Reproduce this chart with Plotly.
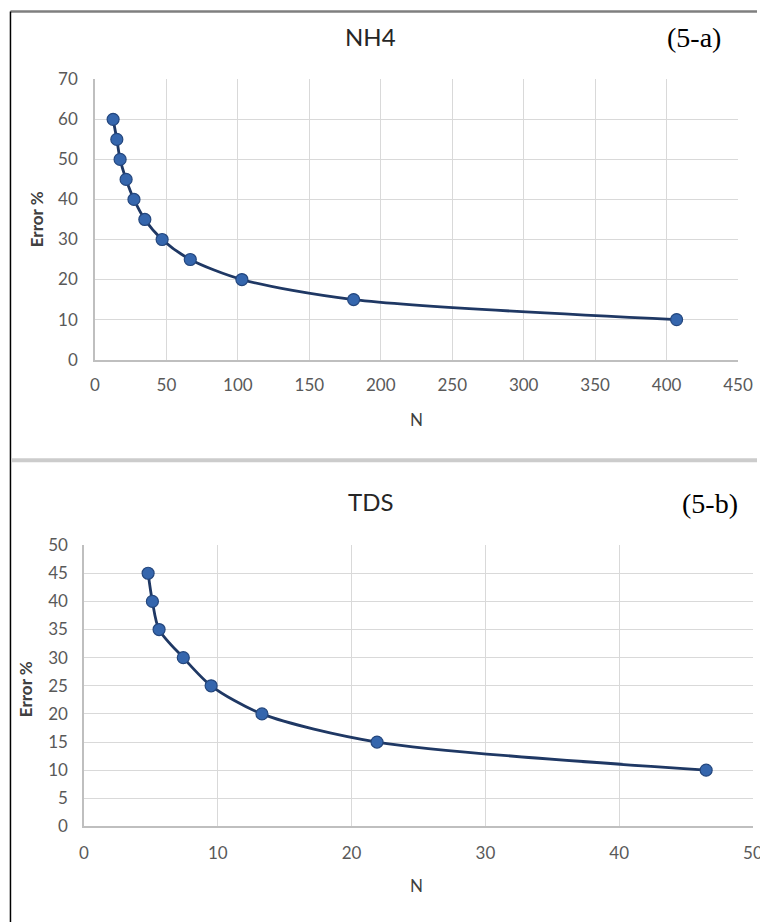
import plotly.graph_objects as go

# Data
nh4_N = [12.7, 15.3, 17.6, 21.8, 27.3, 34.9, 47.0, 66.7, 102.8, 181.0, 407.0]
nh4_err = [60, 55, 50, 45, 40, 35, 30, 25, 20, 15, 10]
tds_N = [4.79, 5.11, 5.61, 7.42, 9.5, 13.3, 21.9, 46.5]
tds_err = [45, 40, 35, 30, 25, 20, 15, 10]

# Page placement (body margin removed in post_script). Earlier renders showed
# picture = 0.98 * page + offset, so positions are given in picture pixels and converted.
S, OX, OY = 0.98, 4.5, 8.5
W, H = 772, 934
def fx(x):
    return (x - OX) / S / W
def fy(y):
    return 1 - (y - OY) / S / H
def cx(v):
    return min(1.0, max(0.0, v))

LINE = "#1f3864"
MARK = "#3566ad"
GRID = "#d9d9d9"
TICKC = "#595959"
FONT = "Lato"

fig = go.Figure()
for xs, ys, xa, ya in [(nh4_N, nh4_err, "x", "y"), (tds_N, tds_err, "x2", "y2")]:
    fig.add_trace(go.Scatter(
        x=xs, y=ys, xaxis=xa, yaxis=ya, mode="lines+markers",
        line=dict(color=LINE, width=2.8, shape="spline", smoothing=0.8),
        marker=dict(size=12, color=MARK, line=dict(color="#24477e", width=1.2)),
        showlegend=False, hoverinfo="x+y"))

axcommon = dict(showgrid=True, gridcolor=GRID, gridwidth=1, zeroline=False,
                showline=True, linecolor="#bfbfbf", linewidth=1.5,
                ticks="", ticklabeloverflow="allow",
                tickfont=dict(family=FONT, size=17, color=TICKC))

fig.update_layout(
    width=W, height=H, margin=dict(l=0, r=0, t=0, b=0),
    paper_bgcolor="white", plot_bgcolor="white",
    xaxis=dict(domain=[cx(fx(95)), cx(fx(742))], range=[0, 450], dtick=50, anchor="y",
               ticklabelstandoff=9, **axcommon),
    yaxis=dict(domain=[cx(fy(358)), cx(fy(77))], range=[0, 70], dtick=10, anchor="x",
               ticklabelstandoff=12, **axcommon),
    xaxis2=dict(domain=[cx(fx(84)), cx(fx(757))], range=[0, 50], dtick=10, anchor="y2",
                ticklabelstandoff=10, **axcommon),
    yaxis2=dict(domain=[cx(fy(826)), cx(fy(544))], range=[0, 50], dtick=5, anchor="x2",
                ticklabelstandoff=11, **axcommon),
)

ann = []
def text(x, y, s, size, family=FONT, color="#404040", angle=0):
    ann.append(dict(x=fx(x), y=fy(y), xref="paper", yref="paper", text=s,
                    showarrow=False, xanchor="center", yanchor="middle",
                    textangle=angle, font=dict(family=family, size=size, color=color)))

text(372, 34, "NH4", 24, color="#262626")
text(698, 35, "(5-a)", 28, family="Liberation Serif", color="#000000")
text(418, 418, "N", 17, color="#404040")
text(37, 217, "<b>Error %</b>", 17, color="#404040", angle=-90)

text(372, 500, "TDS", 24, color="#262626")
text(714, 502, "(5-b)", 28, family="Liberation Serif", color="#000000")
text(418, 885, "N", 17, color="#404040")
text(25, 688, "<b>Error %</b>", 17, color="#404040", angle=-90)
fig.update_layout(annotations=ann)

shapes = [
    dict(type="line", xref="paper", yref="paper", x0=cx(fx(10)), x1=1, y0=cx(fy(9)), y1=cx(fy(9)),
         line=dict(color="#7f7f7f", width=2.5)),
    dict(type="line", xref="paper", yref="paper", x0=cx(fx(10)), x1=cx(fx(10)), y0=cx(fy(9)), y1=0,
         line=dict(color="#000000", width=1.5)),
    dict(type="line", xref="paper", yref="paper", x0=cx(fx(11)), x1=1, y0=fy(459), y1=fy(459),
         line=dict(color="#cccccc", width=4)),
]
fig.update_layout(shapes=shapes)

fig.write_html("out.html", config={"displayModeBar": False},
               post_script="document.body.style.margin='0';document.body.style.overflow='hidden';")
